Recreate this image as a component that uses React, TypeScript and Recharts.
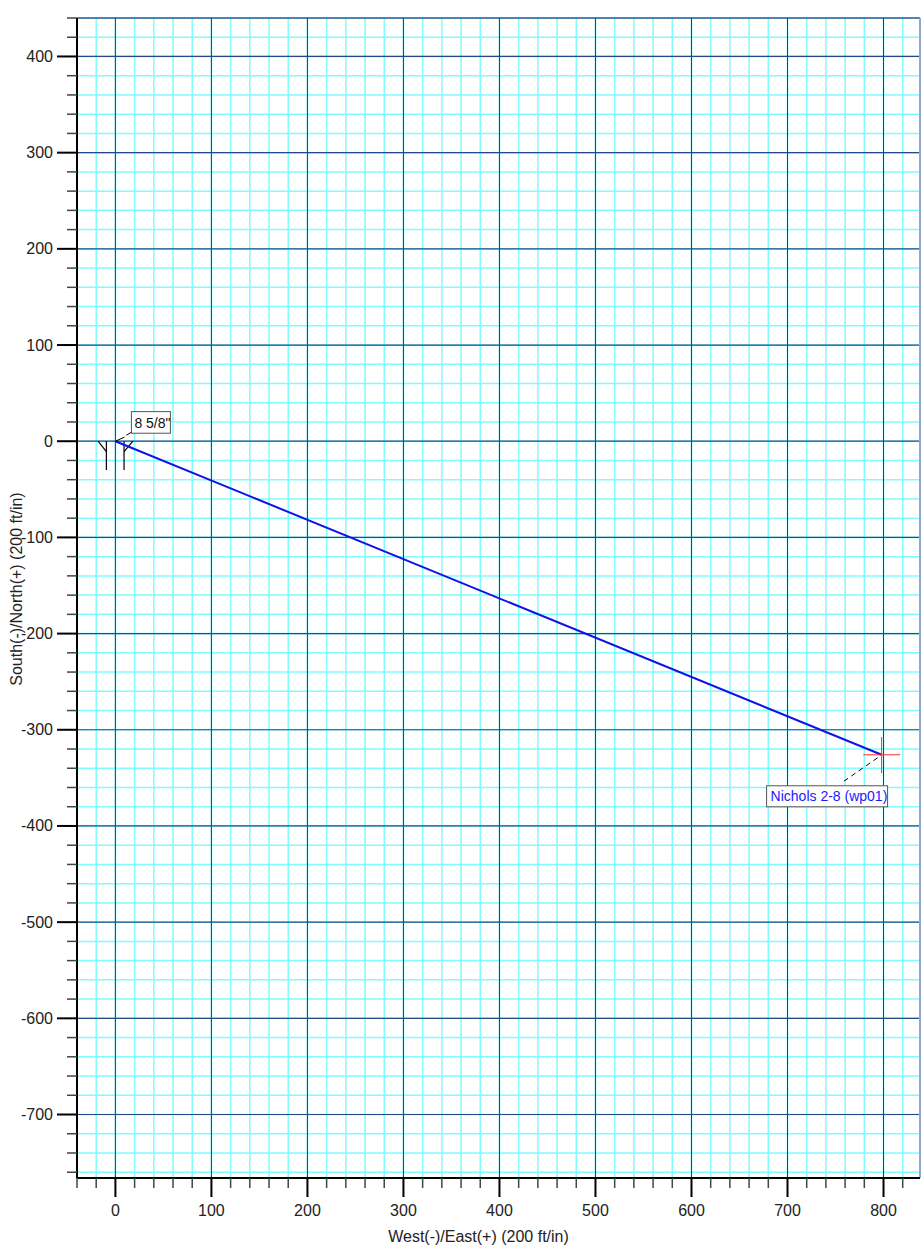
import { CartesianGrid, Line, LineChart, ReferenceDot, ReferenceLine, XAxis, YAxis } from "recharts";

// well path, plan view (ft)
const eastWest = [0, 798];
const northSouth = [0, -326];

const xTicks = [
  -40, -20, 0, 20, 40, 60, 80, 100, 120, 140, 160, 180, 200, 220, 240, 260, 280, 300, 320, 340, 360, 380,
  400, 420, 440, 460, 480, 500, 520, 540, 560, 580, 600, 620, 640, 660, 680, 700, 720, 740, 760, 780, 800, 820,
];
const yTicks = [
  -760, -740, -720, -700, -680, -660, -640, -620, -600, -580, -560, -540, -520, -500, -480, -460, -440, -420,
  -400, -380, -360, -340, -320, -300, -280, -260, -240, -220, -200, -180, -160, -140, -120, -100, -80, -60, -40,
  -20, 0, 20, 40, 60, 80, 100, 120, 140, 160, 180, 200, 220, 240, 260, 280, 300, 320, 340, 360, 380, 400, 420, 440,
];
const xMajor = [0, 100, 200, 300, 400, 500, 600, 700, 800];
const yMajor = [-700, -600, -500, -400, -300, -200, -100, 0, 100, 200, 300, 400];

const casingName = '8 5/8"';
const targetName = "Nichols 2-8 (wp01)";

// casing shoe symbol segments (E, N)
const shoeSegments = [
  [[-9.4, 0], [-9.4, -30]],
  [[-18.1, 0], [-9.4, -10.8]],
  [[9, 0], [9, -30]],
  [[18.3, 0], [9, -10.8]],
];
// target cross
const targetCross = [
  [[779, -326], [817.4, -326]],
  [[798, -307.5], [798, -345]],
];

const data = eastWest.map((e, i) => ({ e, n: northSouth[i] }));

const FONT = "'Liberation Sans', Arial, sans-serif";

function XTick(props: any) {
  const { x, y, payload } = props;
  const major = payload.value % 100 === 0;
  return (
    <g>
      <line x1={x} x2={x} y1={y} y2={y + (major ? 19 : 10)} stroke={major ? "#000" : "#444"} strokeWidth={major ? 2 : 1.5} />
      {major && (
        <text x={x} y={y + 38} textAnchor="middle" fontSize={16} fontFamily={FONT} fill="#222">
          {payload.value}
        </text>
      )}
    </g>
  );
}

function YTick(props: any) {
  const { x, y, payload } = props;
  const major = payload.value % 100 === 0;
  return (
    <g>
      <line x1={x} x2={x - (major ? 20 : 10)} y1={y} y2={y} stroke={major ? "#000" : "#444"} strokeWidth={major ? 2 : 1.5} />
      {major && (
        <text x={x - 24} y={y + 5.5} textAnchor="end" fontSize={16} fontFamily={FONT} fill="#222">
          {payload.value}
        </text>
      )}
    </g>
  );
}

function CasingLabel(props: any) {
  const { cx, cy } = props;
  return (
    <g>
      <path d={`M${cx} ${cy} L${cx + 9} ${cy - 4} M${cx + 11} ${cy - 6} L${cx + 16} ${cy - 9}`} stroke="#000" strokeWidth={1} fill="none" />
      <rect x={cx + 16} y={cy - 29.6} width={39} height={21.6} fill="#fff" stroke="#555" strokeWidth={1} />
      <text x={cx + 19} y={cy - 13} fontSize={14} fontFamily={FONT} fill="#111">
        {casingName}
      </text>
    </g>
  );
}

function TargetLabel(props: any) {
  const { cx, cy } = props;
  return (
    <g>
      <line x1={cx - 4} y1={cy + 3} x2={cx - 40} y2={cy + 28} stroke="#000" strokeWidth={1} strokeDasharray="5 4" />
      <rect x={cx - 115} y={cy + 31} width={121} height={21} fill="#fff" stroke="#555" strokeWidth={1} />
      <text x={cx - 111} y={cy + 46.5} fontSize={14} fontFamily={FONT} fill="#1a1aff">
        {targetName}
      </text>
    </g>
  );
}

export default function App() {
  return (
    <div style={{ position: "absolute", left: 0, top: 0, background: "#fff" }}>
      <LineChart width={922} height={1247} data={data} margin={{ top: 18, right: 2, bottom: 0, left: 0 }}>
        <CartesianGrid stroke="#80fbff" strokeWidth={1.5} />
        {xMajor.map((v) => (
          <ReferenceLine key={`xm${v}`} x={v} stroke="#143f80" strokeWidth={1} />
        ))}
        {yMajor.map((v) => (
          <ReferenceLine key={`ym${v}`} y={v} stroke="#1f4c88" strokeWidth={1.2} />
        ))}
        <ReferenceLine y={440} stroke="#2f5d92" strokeWidth={1.5} />
        <ReferenceLine x={838} stroke="#8fa8cc" strokeWidth={2} />
        <XAxis
          dataKey="e"
          type="number"
          domain={[-40, 838]}
          allowDataOverflow
          ticks={xTicks}
          interval={0}
          tickSize={0}
          tickMargin={0}
          tickLine={false}
          height={69}
          axisLine={{ stroke: "#000", strokeWidth: 2 }}
          tick={(p: any) => <XTick {...p} />}
          label={{
            content: (p: any) => (
              <text
                x={p.viewBox.x + p.viewBox.width / 2 - 20}
                y={p.viewBox.y + 64}
                textAnchor="middle"
                fontSize={16}
                fontFamily={FONT}
                fill="#222"
              >
                West(-)/East(+) (200 ft/in)
              </text>
            ),
          }}
        />
        <YAxis
          dataKey="n"
          type="number"
          domain={[-766, 440]}
          allowDataOverflow
          ticks={yTicks}
          interval={0}
          tickSize={0}
          tickMargin={0}
          tickLine={false}
          width={77}
          axisLine={{ stroke: "#000", strokeWidth: 2 }}
          tick={(p: any) => <YTick {...p} />}
          label={{
            content: (p: any) => {
              const cx = 16;
              const cy = p.viewBox.y + p.viewBox.height / 2 - 9;
              return (
                <text
                  x={cx}
                  y={cy}
                  transform={`rotate(-90 ${cx} ${cy})`}
                  textAnchor="middle"
                  dominantBaseline="central"
                  fontSize={16}
                  fontFamily={FONT}
                  fill="#222"
                >
                  South(-)/North(+) (200 ft/in)
                </text>
              );
            },
          }}
        />
        {shoeSegments.map((s, i) => (
          <ReferenceLine
            key={`shoe${i}`}
            segment={[
              { x: s[0][0], y: s[0][1] },
              { x: s[1][0], y: s[1][1] },
            ]}
            stroke="#000"
            strokeWidth={1.2}
          />
        ))}
        <Line type="linear" dataKey="n" stroke="#0c14e6" strokeWidth={2} dot={false} isAnimationActive={false} />
        {targetCross.map((s, i) => (
          <ReferenceLine
            key={`tc${i}`}
            segment={[
              { x: s[0][0], y: s[0][1] },
              { x: s[1][0], y: s[1][1] },
            ]}
            stroke="#ff2a2a"
            strokeWidth={1}
          />
        ))}
        <ReferenceDot x={eastWest[0]} y={northSouth[0]} r={0} shape={(p: any) => <CasingLabel {...p} />} />
        <ReferenceDot x={eastWest[1]} y={northSouth[1]} r={0} shape={(p: any) => <TargetLabel {...p} />} />
      </LineChart>
    </div>
  );
}
